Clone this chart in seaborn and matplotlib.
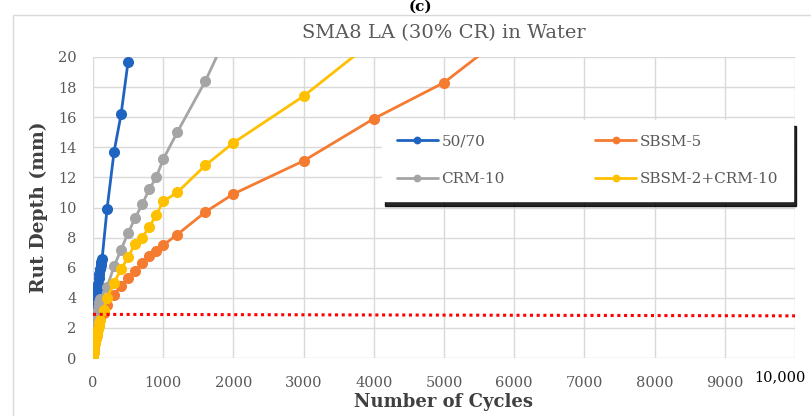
import matplotlib
matplotlib.use("Agg")
import matplotlib.pyplot as plt
import seaborn as sns
import pandas as pd
from matplotlib.patches import Rectangle

# ---------------- data ----------------
x_5070 = [0, 10, 20, 30, 40, 50, 60, 70, 80, 90, 100, 110, 120, 130, 200, 300, 400, 500]
y_5070 = [0, 1.2, 2.3, 3.1, 3.8, 4.2, 4.6, 4.9, 5.3, 5.6, 5.9, 6.2, 6.4, 6.6, 9.9, 13.7, 16.2, 19.7]

x_sbsm5 = [0, 10, 20, 30, 40, 50, 60, 70, 80, 90, 100, 150, 200, 300, 400, 500, 600, 700, 800, 900,
           1000, 1200, 1600, 2000, 3000, 4000, 5000, 6000]
y_sbsm5 = [0, 0.4, 0.7, 1.0, 1.3, 1.5, 1.8, 2.0, 2.2, 2.4, 2.6, 3.0, 3.5, 4.2, 4.8, 5.3, 5.8, 6.3, 6.8, 7.1,
           7.5, 8.2, 9.7, 10.9, 13.1, 15.9, 18.3, 21.9]

x_crm10 = [0, 10, 20, 30, 40, 50, 60, 70, 80, 90, 100, 200, 300, 400, 500, 600, 700, 800, 900,
           1000, 1200, 1600, 2000]
y_crm10 = [0, 0.8, 1.4, 1.9, 2.3, 2.6, 2.9, 3.2, 3.5, 3.7, 3.9, 4.7, 6.1, 7.2, 8.3, 9.3, 10.2, 11.2, 12.0,
           13.2, 15.0, 18.4, 22.4]

x_sbsm2crm = [0, 10, 20, 30, 40, 50, 60, 70, 80, 90, 100, 150, 200, 300, 400, 500, 600, 700, 800, 900,
              1000, 1200, 1600, 2000, 3000, 4000]
y_sbsm2crm = [0, 0.4, 0.7, 1.0, 1.3, 1.5, 1.7, 1.9, 2.1, 2.3, 2.5, 3.2, 4.0, 5.0, 5.9, 6.7, 7.6, 8.0, 8.7, 9.5,
              10.4, 11.0, 12.8, 14.3, 17.4, 21.1]

series_names = ["50/70", "SBSM-5", "CRM-10", "SBSM-2+CRM-10"]
series_colors = ["#1F64C0", "#F57B30", "#A5A5A5", "#FFC000"]

threshold_x = [0, 10000]
threshold_y = [2.9, 2.8]

x_ticks = [0, 1000, 2000, 3000, 4000, 5000, 6000, 7000, 8000, 9000, 10000]
x_ticklabels = ["0", "1000", "2000", "3000", "4000", "5000", "6000", "7000", "8000", "9000", ""]
y_ticks = [0, 2, 4, 6, 8, 10, 12, 14, 16, 18, 20]

title = "SMA8 LA (30% CR) in Water"
panel = "(c)"
xlabel = "Number of Cycles"
ylabel = "Rut Depth (mm)"
last_x_label = "10,000"

# ---------------- figure ----------------
sns.set_theme(style="white")
plt.rcParams["font.family"] = ["DejaVu Serif"]

W, H = 811, 416
fig = plt.figure(figsize=(W / 100, H / 100), dpi=100)
ax = fig.add_axes([93 / W, (H - 358) / H, (795 - 93) / W, (358 - 57) / H])

xs = [x_5070, x_sbsm5, x_crm10, x_sbsm2crm]
ys = [y_5070, y_sbsm5, y_crm10, y_sbsm2crm]
frames = []
for name, xv, yv in zip(series_names, xs, ys):
    frames.append(pd.DataFrame({"cycles": xv, "rut": yv, "mix": name}))
df = pd.concat(frames, ignore_index=True)

for name, col in zip(series_names, series_colors):
    sub = df[df["mix"] == name]
    sns.lineplot(data=sub, x="cycles", y="rut", ax=ax, color=col, linewidth=2.0,
                 marker="o", markersize=8, markeredgewidth=0, label=name,
                 sort=False, estimator=None, legend=False)

ax.plot(threshold_x, threshold_y, color="#FF0000", linestyle=(0, (1, 1.2)), linewidth=2.2)

ax.set_xlim(0, 10000)
ax.set_ylim(0, 20)
ax.set_xticks(x_ticks)
ax.set_xticklabels(x_ticklabels)
ax.set_yticks(y_ticks)
ax.grid(True, color="#D9D9D9", linewidth=1.0)
ax.set_axisbelow(True)
for s in ax.spines.values():
    s.set_visible(False)
ax.tick_params(axis="both", length=0, labelsize=10.5, colors="#595959")
ax.tick_params(axis="x", pad=13)
ax.tick_params(axis="y", pad=12)

ax.set_xlabel(xlabel, fontsize=13, fontweight="bold", color="#404040", labelpad=2)
ax.set_ylabel(ylabel, fontsize=13.5, fontweight="bold", color="#404040", labelpad=7)

fig.text(444 / W, 1 - 33 / H, title, ha="center", va="center", fontsize=14, color="#595959")
fig.text(420 / W, 1.0, panel, ha="center", va="top", fontsize=11, color="#000000", fontweight="bold")
fig.text(780 / W, 1 - 377 / H, last_x_label, ha="center", va="center", fontsize=10.5, color="#000000")

# outer chart border
fig.patches.append(Rectangle((13 / W, -0.1), 1.0, 1 - 15 / H + 0.1, transform=fig.transFigure,
                             fill=False, edgecolor="#D9D9D9", linewidth=1.0))

handles, labels = ax.get_legend_handles_labels()
order = [0, 2, 1, 3]
leg = ax.legend([handles[i] for i in order], [labels[i] for i in order], ncol=2,
                loc="upper left",
                bbox_to_anchor=((382 - 93) / (795 - 93), 1 - (123 - 57) / (358 - 57),
                                (793 - 382) / (795 - 93), 0.01),
                mode="expand", borderaxespad=0.0, fontsize=11, frameon=True, fancybox=False,
                handlelength=2.7, handletextpad=0.25, labelspacing=1.55, borderpad=0.95,
                markerscale=0.7, labelcolor="#595959",
                shadow={"color": "black", "alpha": 0.85, "ox": 2, "oy": -4})
leg.get_frame().set_edgecolor("white")
leg.get_frame().set_facecolor("white")
leg.get_frame().set_alpha(1.0)

fig.savefig("out.png", dpi=100)
